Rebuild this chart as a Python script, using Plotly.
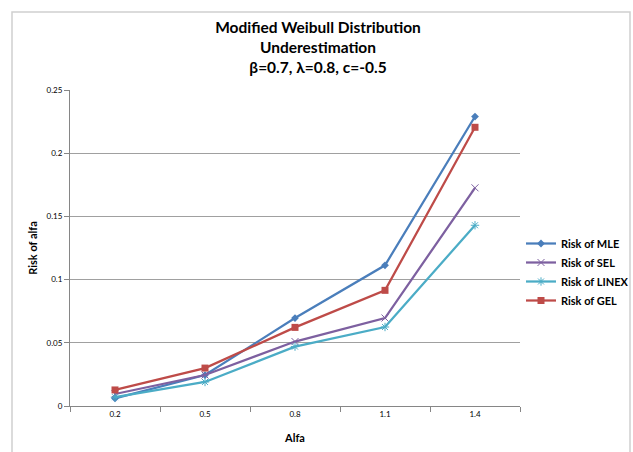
import plotly.graph_objects as go

categories = ["0.2", "0.5", "0.8", "1.1", "1.4"]
risk_mle = [0.006, 0.0245, 0.0696, 0.1113, 0.229]
risk_sel = [0.0095, 0.0245, 0.051, 0.0696, 0.1726]
risk_linex = [0.007, 0.019, 0.047, 0.0625, 0.143]
risk_gel = [0.0127, 0.030, 0.0622, 0.0915, 0.2205]
y_ticks = [0, 0.05, 0.1, 0.15, 0.2, 0.25]
y_tick_labels = ["0", "0.05", "0.1", "0.15", "0.2", "0.25"]

FONT = "Lato, 'Liberation Sans', sans-serif"

series = [
    ("Risk of MLE", risk_mle, "#4A7EBB", dict(symbol="diamond", size=6)),
    ("Risk of SEL", risk_sel, "#7D60A0", dict(symbol="x-thin-open", size=7, line=dict(width=1, color="#7D60A0"))),
    ("Risk of LINEX", risk_linex, "#4BACC6", dict(symbol="asterisk-open", size=7, line=dict(width=1, color="#4BACC6"))),
    ("Risk of GEL", risk_gel, "#BE4B48", dict(symbol="square", size=7)),
]

fig = go.Figure()
for name, vals, color, marker in series:
    m = dict(color=color, **marker)
    fig.add_trace(go.Scatter(x=categories, y=vals, name=f"<b>{name}</b>", mode="lines+markers",
                             line=dict(color=color, width=2.25), marker=m))

L, R, T, B = 70, 113, 90, 46
W, H = 633, 452
pw, ph = W - L - R, H - T - B

def px_x(x):
    return (x - L) / pw

def px_y(y):
    return (H - B - y) / ph

fig.add_shape(type="path", xref="paper", yref="paper",
              path=f"M {px_x(12)} {px_y(470)} L {px_x(12)} {px_y(12)} L {px_x(630)} {px_y(12)} L {px_x(630)} {px_y(470)}",
              line=dict(color="#D0D0D0", width=1.5))

fig.update_layout(
    width=W, height=H,
    margin=dict(l=L, r=R, t=T, b=B, autoexpand=False),
    paper_bgcolor="white", plot_bgcolor="white",
    font=dict(family=FONT, color="#000000"),
    title=dict(
        text="<b>Modified Weibull Distribution</b><br><b>Underestimation</b><br><b>β=0.7, λ=0.8, c=-0.5</b>",
        x=(318) / W, xanchor="center", y=1 - 33 / H, yanchor="top",
        font=dict(size=15.5, family=FONT),
    ),
    showlegend=True,
    legend=dict(x=px_x(521), y=px_y(229), xanchor="left", yanchor="top",
                font=dict(size=11, family=FONT), tracegroupgap=0, itemwidth=30,
                bgcolor="rgba(0,0,0,0)"),
    xaxis=dict(
        type="category", range=[-0.5, 4.5], tickson="boundaries",
        ticks="outside", ticklen=5, tickcolor="#868686",
        showline=True, linecolor="#868686", linewidth=1,
        showgrid=False, tickfont=dict(size=8, family=FONT),
        title=dict(text="<b>Alfa</b>", font=dict(size=11, family=FONT), standoff=16),
    ),
    yaxis=dict(
        range=[0, 0.25], tickvals=y_ticks, ticktext=y_tick_labels,
        ticks="outside", ticklen=5, tickcolor="#868686",
        showline=True, linecolor="#868686", linewidth=1,
        showgrid=True, gridcolor="#A0A0A0", gridwidth=1, zeroline=False,
        tickfont=dict(size=8, family=FONT),
        title=dict(text="<b>Risk of alfa</b>", font=dict(size=11, family=FONT), standoff=6),
    ),
)

fig.write_html("out.html")
